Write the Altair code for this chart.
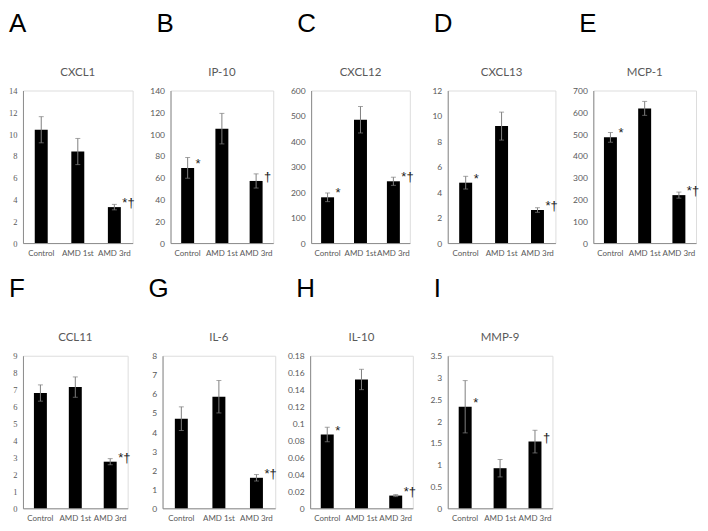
import altair as alt
import pandas as pd

groups = ["Control", "AMD 1st", "AMD 3rd"]

letters = ["A", "B", "C", "D", "E", "F", "G", "H", "I"]
titles = ["CXCL1", "IP-10", "CXCL12", "CXCL13", "MCP-1", "CCL11", "IL-6", "IL-10", "MMP-9"]

means = [
    [10.4, 8.4, 3.3],
    [69, 105, 57],
    [180, 485, 243],
    [4.75, 9.2, 2.6],
    [485, 618, 220],
    [6.8, 7.15, 2.75],
    [4.7, 5.85, 1.6],
    [0.087, 0.152, 0.015],
    [2.33, 0.92, 1.53],
]
errors = [
    [1.2, 1.2, 0.25],
    [9.5, 14, 6.5],
    [17, 52, 16],
    [0.5, 1.1, 0.18],
    [22, 32, 14],
    [0.48, 0.6, 0.18],
    [0.62, 0.85, 0.17],
    [0.0085, 0.012, 0.0012],
    [0.6, 0.2, 0.26],
]
markers = [
    ["", "", "*†"],
    ["*", "", "†"],
    ["*", "", "*†"],
    ["*", "", "*†"],
    ["*", "", "*†"],
    ["", "", "*†"],
    ["", "", "*†"],
    ["*", "", "*†"],
    ["*", "", "†"],
]
yticks = [
    [0, 2, 4, 6, 8, 10, 12, 14],
    [0, 20, 40, 60, 80, 100, 120, 140],
    [0, 100, 200, 300, 400, 500, 600],
    [0, 2, 4, 6, 8, 10, 12],
    [0, 100, 200, 300, 400, 500, 600, 700],
    [0, 1, 2, 3, 4, 5, 6, 7, 8, 9],
    [0, 1, 2, 3, 4, 5, 6, 7, 8],
    [0, 0.02, 0.04, 0.06, 0.08, 0.1, 0.12, 0.14, 0.16, 0.18],
    [0, 0.5, 1, 1.5, 2, 2.5, 3, 3.5],
]
ylabel_fonts = ["Liberation Serif", "Lato", "Lato", "Lato", "Lato",
                "Liberation Serif", "Lato", "Lato", "Lato"]

widths = [110, 103, 99, 108, 103, 105, 113, 103, 105]
H = 153
GRAY = "#595959"
AXIS = "#8c8c8c"
ERR = "#7f7f7f"


def panel(i):
    m = means[i]
    e = errors[i]
    df = pd.DataFrame({
        "group": groups,
        "mean": m,
        "lo": [a - b for a, b in zip(m, e)],
        "hi": [a + b for a, b in zip(m, e)],
        "mark": markers[i],
    })
    w = widths[i]
    ticks = yticks[i]
    x = alt.X("group:N", sort=groups, title=None,
              scale=alt.Scale(paddingInner=0, paddingOuter=0),
              axis=alt.Axis(labelAngle=0, labelFontSize=8, labelColor=GRAY,
                            labelFont="Lato", domainColor=AXIS, ticks=False,
                            tickSize=0, labelPadding=6, grid=False))
    yscale = alt.Scale(domain=[0, ticks[-1]], nice=False, zero=True)
    yaxis = alt.Axis(values=ticks, format="~f", labelFontSize=8.5,
                     labelColor=GRAY, labelFont=ylabel_fonts[i],
                     domainColor=AXIS, ticks=False, tickSize=0,
                     labelPadding=6, grid=False, labelOverlap=False,
                     labelFlush=False, title=None)

    def Y(f):
        return alt.Y(f, scale=yscale, axis=yaxis, title=None)

    base = alt.Chart(df).encode(x=x)
    bars = base.mark_bar(size=13, color="black").encode(y=Y("mean:Q"))
    rule = base.mark_rule(color=ERR, strokeWidth=1).encode(
        y=Y("lo:Q"), y2="hi:Q")
    tlo = base.mark_tick(color=ERR, size=5, thickness=1).encode(y=Y("lo:Q"))
    thi = base.mark_tick(color=ERR, size=5, thickness=1).encode(y=Y("hi:Q"))
    txt = base.mark_text(align="left", baseline="middle", dx=8, dy=-4,
                         fontSize=13, font="Liberation Sans", fill="#1a1a1a").encode(
        y=Y("mean:Q"), text="mark:N")
    lab = alt.Chart(pd.DataFrame({"t": [letters[i]]})).mark_text(
        align="left", baseline="alphabetic", fontSize=26,
        font="Liberation Sans", fill="black").encode(
        text="t:N", x=alt.value(-14), y=alt.value(-59))
    ttl = alt.Chart(pd.DataFrame({"t": [titles[i]]})).mark_text(
        align="center", baseline="alphabetic", fontSize=11.5,
        font="Lato", fill=GRAY).encode(
        text="t:N", x=alt.value(w / 2), y=alt.value(-15))
    return alt.layer(bars, rule, tlo, thi, txt, lab, ttl).properties(
        width=w, height=H)


row1 = alt.hconcat(*[panel(i) for i in range(5)], spacing=38, bounds="flush")
row2 = alt.hconcat(*[panel(i) for i in range(5, 9)], spacing=35, bounds="flush")

chart = alt.vconcat(row1, row2, spacing=17).properties(
    padding={"left": 0, "top": 1, "right": 0, "bottom": 0}
).configure_view(stroke=None).configure(background="white")

chart.save("out.html", embed_options={"renderer": "svg", "actions": False})
